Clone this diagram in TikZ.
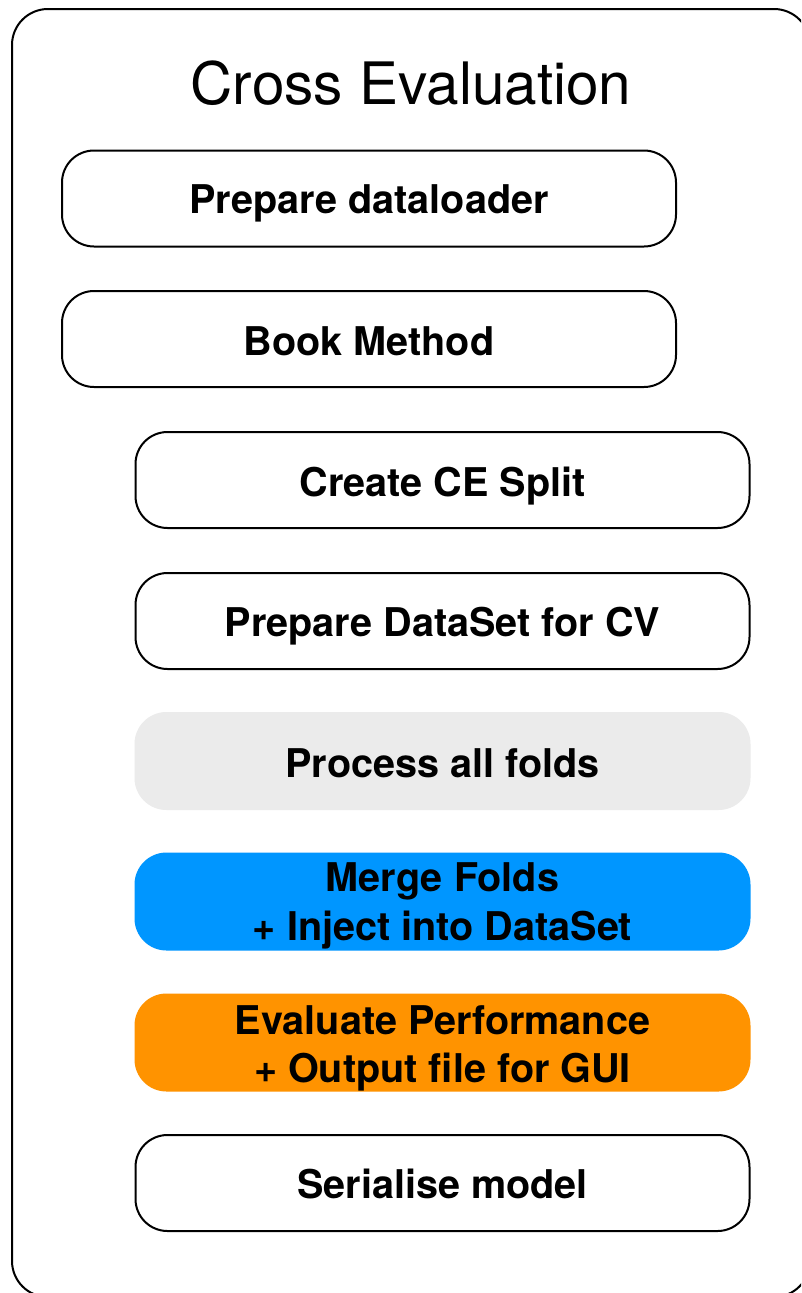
\documentclass[tikz,border=0pt]{standalone}
\usepackage{fontspec}
\setmainfont{TeX Gyre Heros}
\definecolor{grayfill}{HTML}{EBEBEB}
\definecolor{bluefill}{HTML}{0096FF}
\definecolor{orangefill}{HTML}{FF9300}
\begin{document}
\begin{tikzpicture}[x=1pt,y=1pt,
  stepbox/.style={draw=black, line width=2pt, rounded corners=32pt, minimum width=614pt, minimum height=96pt, inner sep=0pt},
  plainbox/.style={stepbox, draw=none, minimum width=616pt, minimum height=98pt},
  steptext/.style={font=\fontsize{39.6}{47.5}\selectfont\bfseries, anchor=base, inner sep=0pt}]
\useasboundingbox (0,0) rectangle (801,-1293);
\clip (0,0) rectangle (801,-1293);
\fill[white] (0,0) rectangle (801,-1293);
\draw[line width=2pt, rounded corners=36pt] (12,-9) rectangle (810,-1297);
\node[font=\fontsize{58.5}{70}\selectfont, anchor=base] (title) at (411,-104) {Cross Evaluation};
% boxes
\node[stepbox] (prep) at (369,-198.5) {};
\node[stepbox] (book) at (369,-339) {};
\node[stepbox] (split) at (442.5,-480) {};
\node[stepbox] (dataset) at (442.5,-621) {};
\node[plainbox, fill=grayfill] (folds) at (442.5,-761) {};
\node[plainbox, fill=bluefill] (merge) at (442.5,-901.5) {};
\node[plainbox, fill=orangefill] (eval) at (442.5,-1042.5) {};
\node[stepbox] (serial) at (442.5,-1183) {};
% texts
\node[steptext] (prep-t) at ([yshift=-14.5pt]prep.center) {Prepare dataloader};
\node[steptext] (book-t) at ([yshift=-16pt]book.center) {Book Method};
\node[steptext] (split-t) at ([yshift=-16.5pt]split.center) {Create CE Split};
\node[steptext] (dataset-t) at ([yshift=-15.7pt]dataset.center) {Prepare DataSet for CV};
\node[steptext] (folds-t) at ([yshift=-16.3pt]folds.center) {Process all folds};
\node[steptext] (merge-t1) at ([yshift=9.8pt]merge.center) {Merge Folds};
\node[steptext] (merge-t2) at ([yshift=-38.5pt]merge.center) {+ Inject into DataSet};
\node[steptext] (eval-t1) at ([yshift=8.2pt]eval.center) {Evaluate Performance};
\node[steptext] (eval-t2) at ([yshift=-39.8pt]eval.center) {+ Output file for GUI};
\node[steptext] (serial-t) at ([yshift=-15.3pt]serial.center) {Serialise model};
\end{tikzpicture}
\end{document}
